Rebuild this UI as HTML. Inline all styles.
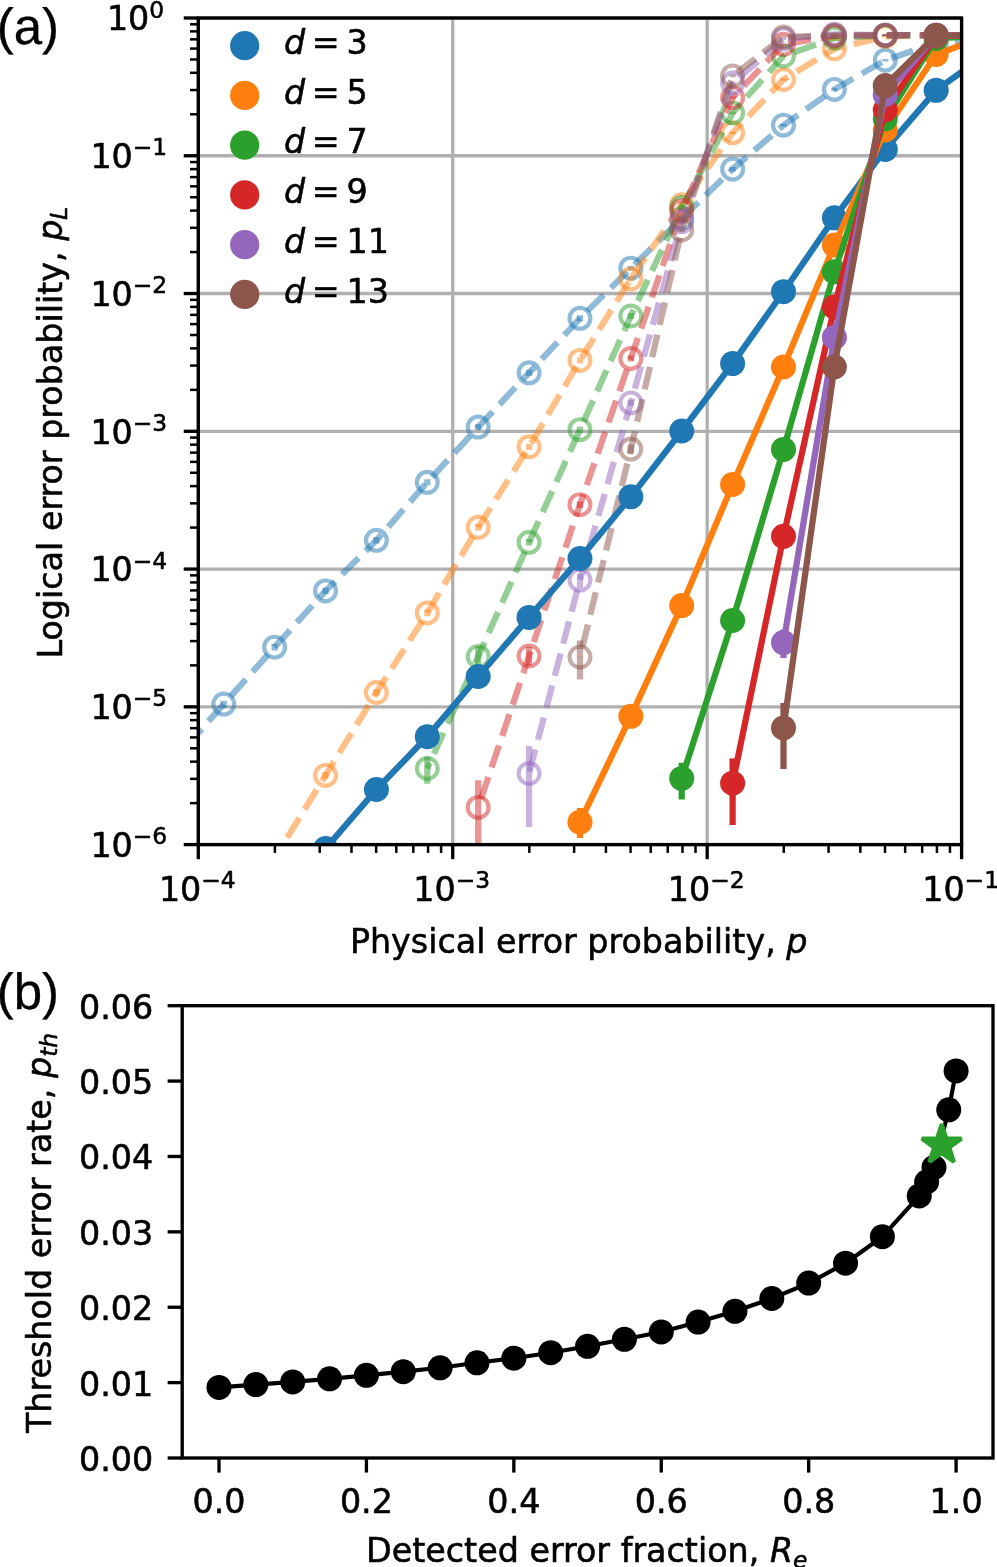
<!DOCTYPE html><html><head><meta charset="utf-8"><title>Figure</title><style>
html,body{margin:0;padding:0;background:#fff;overflow:hidden}svg{display:block;will-change:transform}
text{font-family:"DejaVu Sans","Liberation Sans",sans-serif;font-size:33.33px;fill:#000;stroke:#000;stroke-width:0.55px;stroke-linejoin:round}
.it{font-style:oblique}.sm{font-size:23.33px}.pl{font-family:"Liberation Sans",sans-serif;font-size:51px;text-rendering:geometricPrecision;stroke-width:0.3px}
</style></head><body>
<svg width="997" height="1567" viewBox="0 0 997 1567">
<rect width="997" height="1567" fill="#fff"/>
<defs><clipPath id="ca"><rect x="198.3" y="18" width="763.3" height="826.6"/></clipPath></defs>
<g stroke="#b0b0b0" stroke-width="3.33" fill="none">
<line x1="198.3" y1="18" x2="198.3" y2="844.6"/>
<line x1="452.73" y1="18" x2="452.73" y2="844.6"/>
<line x1="707.17" y1="18" x2="707.17" y2="844.6"/>
<line x1="961.6" y1="18" x2="961.6" y2="844.6"/>
<line x1="198.3" y1="18" x2="961.6" y2="18"/>
<line x1="198.3" y1="155.77" x2="961.6" y2="155.77"/>
<line x1="198.3" y1="293.53" x2="961.6" y2="293.53"/>
<line x1="198.3" y1="431.3" x2="961.6" y2="431.3"/>
<line x1="198.3" y1="569.07" x2="961.6" y2="569.07"/>
<line x1="198.3" y1="706.83" x2="961.6" y2="706.83"/>
<line x1="198.3" y1="844.6" x2="961.6" y2="844.6"/>
</g>
<g clip-path="url(#ca)">
<g stroke="#1f77b4" stroke-opacity="0.5" fill="none">
<polyline points="172.86,761.5 223.74,704.1 274.63,647.2 325.52,590.9 376.4,540.3 427.29,482.3 478.18,427.1 529.06,372.8" stroke-width="6.25" stroke-dasharray="23.12 10" stroke-dashoffset="12.58" stroke-linejoin="round"/>
<polyline points="529.06,372.8 579.95,318.3 630.84,268.2 681.72,218.5 732.61,169.2 783.5,125.2 834.38,89.4 885.27,60.2 936.16,43 987.04,37.5" stroke-width="6.25" stroke-dasharray="23.12 10" stroke-dashoffset="14.55" stroke-linejoin="round"/>
<circle cx="172.86" cy="761.5" r="10.42" stroke-width="4.17"/>
<circle cx="223.74" cy="704.1" r="10.42" stroke-width="4.17"/>
<circle cx="274.63" cy="647.2" r="10.42" stroke-width="4.17"/>
<circle cx="325.52" cy="590.9" r="10.42" stroke-width="4.17"/>
<circle cx="376.4" cy="540.3" r="10.42" stroke-width="4.17"/>
<circle cx="427.29" cy="482.3" r="10.42" stroke-width="4.17"/>
<circle cx="478.18" cy="427.1" r="10.42" stroke-width="4.17"/>
<circle cx="529.06" cy="372.8" r="10.42" stroke-width="4.17"/>
<circle cx="579.95" cy="318.3" r="10.42" stroke-width="4.17"/>
<circle cx="630.84" cy="268.2" r="10.42" stroke-width="4.17"/>
<circle cx="681.72" cy="218.5" r="10.42" stroke-width="4.17"/>
<circle cx="732.61" cy="169.2" r="10.42" stroke-width="4.17"/>
<circle cx="783.5" cy="125.2" r="10.42" stroke-width="4.17"/>
<circle cx="834.38" cy="89.4" r="10.42" stroke-width="4.17"/>
<circle cx="885.27" cy="60.2" r="10.42" stroke-width="4.17"/>
<circle cx="936.16" cy="43" r="10.42" stroke-width="4.17"/>
<circle cx="987.04" cy="37.5" r="10.42" stroke-width="4.17"/>
<line x1="172.86" y1="758.2" x2="172.86" y2="764.8" stroke-width="6.25"/>
<line x1="223.74" y1="700.8" x2="223.74" y2="707.4" stroke-width="6.25"/>
<line x1="274.63" y1="643.9" x2="274.63" y2="650.5" stroke-width="6.25"/>
<line x1="325.52" y1="587.6" x2="325.52" y2="594.2" stroke-width="6.25"/>
<line x1="376.4" y1="537" x2="376.4" y2="543.6" stroke-width="6.25"/>
<line x1="427.29" y1="479.25" x2="427.29" y2="485.35" stroke-width="6.25"/>
<line x1="478.18" y1="424.05" x2="478.18" y2="430.15" stroke-width="6.25"/>
<line x1="529.06" y1="369.75" x2="529.06" y2="375.85" stroke-width="6.25"/>
<line x1="579.95" y1="315.25" x2="579.95" y2="321.35" stroke-width="6.25"/>
<line x1="630.84" y1="265.9" x2="630.84" y2="270.5" stroke-width="6.25"/>
<line x1="681.72" y1="216.2" x2="681.72" y2="220.8" stroke-width="6.25"/>
<line x1="732.61" y1="166.9" x2="732.61" y2="171.5" stroke-width="6.25"/>
<line x1="783.5" y1="123.9" x2="783.5" y2="126.5" stroke-width="6.25"/>
<line x1="834.38" y1="88.1" x2="834.38" y2="90.7" stroke-width="6.25"/>
<line x1="885.27" y1="58.9" x2="885.27" y2="61.5" stroke-width="6.25"/>
<line x1="936.16" y1="42.1" x2="936.16" y2="43.9" stroke-width="6.25"/>
<line x1="987.04" y1="36.6" x2="987.04" y2="38.4" stroke-width="6.25"/>
</g>
<g stroke="#ff7f0e" stroke-opacity="0.5" fill="none">
<polyline points="274.63,858 325.52,775.4 376.4,692.5 427.29,612.9 478.18,527.3 529.06,446.8 579.95,360.4 630.84,278.9" stroke-width="6.25" stroke-dasharray="23.12 10" stroke-dashoffset="9.16" stroke-linejoin="round"/>
<polyline points="630.84,278.9 681.72,204.8 732.61,132.8 783.5,79.5 834.38,48.8" stroke-width="6.25" stroke-dasharray="23.12 10" stroke-dashoffset="30.95" stroke-linejoin="round"/>
<polyline points="834.38,48.8 885.27,36.5 936.16,35.2 987.04,35.2" stroke-width="6.25" stroke-dasharray="23.12 10" stroke-dashoffset="13.33" stroke-linejoin="round"/>
<circle cx="274.63" cy="858" r="10.42" stroke-width="4.17"/>
<circle cx="325.52" cy="775.4" r="10.42" stroke-width="4.17"/>
<circle cx="376.4" cy="692.5" r="10.42" stroke-width="4.17"/>
<circle cx="427.29" cy="612.9" r="10.42" stroke-width="4.17"/>
<circle cx="478.18" cy="527.3" r="10.42" stroke-width="4.17"/>
<circle cx="529.06" cy="446.8" r="10.42" stroke-width="4.17"/>
<circle cx="579.95" cy="360.4" r="10.42" stroke-width="4.17"/>
<circle cx="630.84" cy="278.9" r="10.42" stroke-width="4.17"/>
<circle cx="681.72" cy="204.8" r="10.42" stroke-width="4.17"/>
<circle cx="732.61" cy="132.8" r="10.42" stroke-width="4.17"/>
<circle cx="783.5" cy="79.5" r="10.42" stroke-width="4.17"/>
<circle cx="834.38" cy="48.8" r="10.42" stroke-width="4.17"/>
<circle cx="885.27" cy="36.5" r="10.42" stroke-width="4.17"/>
<circle cx="936.16" cy="35.2" r="10.42" stroke-width="4.17"/>
<circle cx="987.04" cy="35.2" r="10.42" stroke-width="4.17"/>
<line x1="274.63" y1="854.7" x2="274.63" y2="861.3" stroke-width="6.25"/>
<line x1="325.52" y1="772.1" x2="325.52" y2="778.7" stroke-width="6.25"/>
<line x1="376.4" y1="689.2" x2="376.4" y2="695.8" stroke-width="6.25"/>
<line x1="427.29" y1="609.6" x2="427.29" y2="616.2" stroke-width="6.25"/>
<line x1="478.18" y1="524" x2="478.18" y2="530.6" stroke-width="6.25"/>
<line x1="529.06" y1="443.75" x2="529.06" y2="449.85" stroke-width="6.25"/>
<line x1="579.95" y1="357.35" x2="579.95" y2="363.45" stroke-width="6.25"/>
<line x1="630.84" y1="276.6" x2="630.84" y2="281.2" stroke-width="6.25"/>
<line x1="681.72" y1="202.5" x2="681.72" y2="207.1" stroke-width="6.25"/>
<line x1="732.61" y1="131.5" x2="732.61" y2="134.1" stroke-width="6.25"/>
<line x1="783.5" y1="78.2" x2="783.5" y2="80.8" stroke-width="6.25"/>
<line x1="834.38" y1="47.9" x2="834.38" y2="49.7" stroke-width="6.25"/>
<line x1="885.27" y1="35.6" x2="885.27" y2="37.4" stroke-width="6.25"/>
<line x1="936.16" y1="34.3" x2="936.16" y2="36.1" stroke-width="6.25"/>
<line x1="987.04" y1="34.3" x2="987.04" y2="36.1" stroke-width="6.25"/>
</g>
<g stroke="#2ca02c" stroke-opacity="0.5" fill="none">
<polyline points="427.29,768.5 478.18,656.5 529.06,542.3 579.95,429.7 630.84,316 681.72,207.6 732.61,112.9 783.5,56 834.38,38" stroke-width="6.25" stroke-dasharray="23.12 10" stroke-dashoffset="16.96" stroke-linejoin="round"/>
<polyline points="834.38,38 885.27,35.5 936.16,35.2 987.04,35.2" stroke-width="6.25" stroke-dasharray="23.12 10" stroke-dashoffset="13.33" stroke-linejoin="round"/>
<circle cx="427.29" cy="768.5" r="10.42" stroke-width="4.17"/>
<circle cx="478.18" cy="656.5" r="10.42" stroke-width="4.17"/>
<circle cx="529.06" cy="542.3" r="10.42" stroke-width="4.17"/>
<circle cx="579.95" cy="429.7" r="10.42" stroke-width="4.17"/>
<circle cx="630.84" cy="316" r="10.42" stroke-width="4.17"/>
<circle cx="681.72" cy="207.6" r="10.42" stroke-width="4.17"/>
<circle cx="732.61" cy="112.9" r="10.42" stroke-width="4.17"/>
<circle cx="783.5" cy="56" r="10.42" stroke-width="4.17"/>
<circle cx="834.38" cy="38" r="10.42" stroke-width="4.17"/>
<circle cx="885.27" cy="35.5" r="10.42" stroke-width="4.17"/>
<circle cx="936.16" cy="35.2" r="10.42" stroke-width="4.17"/>
<circle cx="987.04" cy="35.2" r="10.42" stroke-width="4.17"/>
<line x1="427.29" y1="756.7" x2="427.29" y2="783.8" stroke-width="6.25"/>
<line x1="478.18" y1="646" x2="478.18" y2="667" stroke-width="6.25"/>
<line x1="529.06" y1="539" x2="529.06" y2="545.6" stroke-width="6.25"/>
<line x1="579.95" y1="426.65" x2="579.95" y2="432.75" stroke-width="6.25"/>
<line x1="630.84" y1="312.95" x2="630.84" y2="319.05" stroke-width="6.25"/>
<line x1="681.72" y1="205.3" x2="681.72" y2="209.9" stroke-width="6.25"/>
<line x1="732.61" y1="111.6" x2="732.61" y2="114.2" stroke-width="6.25"/>
<line x1="783.5" y1="55.1" x2="783.5" y2="56.9" stroke-width="6.25"/>
<line x1="834.38" y1="37.1" x2="834.38" y2="38.9" stroke-width="6.25"/>
<line x1="885.27" y1="34.6" x2="885.27" y2="36.4" stroke-width="6.25"/>
<line x1="936.16" y1="34.3" x2="936.16" y2="36.1" stroke-width="6.25"/>
<line x1="987.04" y1="34.3" x2="987.04" y2="36.1" stroke-width="6.25"/>
</g>
<g stroke="#d62728" stroke-opacity="0.5" fill="none">
<polyline points="478.18,807.4 529.06,656 579.95,504.7 630.84,358.4 681.72,210.8 732.61,97.6 783.5,44.3" stroke-width="6.25" stroke-dasharray="23.12 10" stroke-dashoffset="24.13" stroke-linejoin="round"/>
<polyline points="783.5,44.3 834.38,35.8 885.27,35.2 936.16,35.2 987.04,35.2" stroke-width="6.25" stroke-dasharray="23.12 10" stroke-dashoffset="28.63" stroke-linejoin="round"/>
<circle cx="478.18" cy="807.4" r="10.42" stroke-width="4.17"/>
<circle cx="529.06" cy="656" r="10.42" stroke-width="4.17"/>
<circle cx="579.95" cy="504.7" r="10.42" stroke-width="4.17"/>
<circle cx="630.84" cy="358.4" r="10.42" stroke-width="4.17"/>
<circle cx="681.72" cy="210.8" r="10.42" stroke-width="4.17"/>
<circle cx="732.61" cy="97.6" r="10.42" stroke-width="4.17"/>
<circle cx="783.5" cy="44.3" r="10.42" stroke-width="4.17"/>
<circle cx="834.38" cy="35.8" r="10.42" stroke-width="4.17"/>
<circle cx="885.27" cy="35.2" r="10.42" stroke-width="4.17"/>
<circle cx="936.16" cy="35.2" r="10.42" stroke-width="4.17"/>
<circle cx="987.04" cy="35.2" r="10.42" stroke-width="4.17"/>
<line x1="478.18" y1="780.2" x2="478.18" y2="900" stroke-width="6.25"/>
<line x1="529.06" y1="646.9" x2="529.06" y2="665.5" stroke-width="6.25"/>
<line x1="579.95" y1="501.4" x2="579.95" y2="508" stroke-width="6.25"/>
<line x1="630.84" y1="355.35" x2="630.84" y2="361.45" stroke-width="6.25"/>
<line x1="681.72" y1="208.5" x2="681.72" y2="213.1" stroke-width="6.25"/>
<line x1="732.61" y1="96.3" x2="732.61" y2="98.9" stroke-width="6.25"/>
<line x1="783.5" y1="43.4" x2="783.5" y2="45.2" stroke-width="6.25"/>
<line x1="834.38" y1="34.9" x2="834.38" y2="36.7" stroke-width="6.25"/>
<line x1="885.27" y1="34.3" x2="885.27" y2="36.1" stroke-width="6.25"/>
<line x1="936.16" y1="34.3" x2="936.16" y2="36.1" stroke-width="6.25"/>
<line x1="987.04" y1="34.3" x2="987.04" y2="36.1" stroke-width="6.25"/>
</g>
<g stroke="#9467bd" stroke-opacity="0.5" fill="none">
<polyline points="529.06,773.5 579.95,580.1 630.84,402.9 681.72,221.6 732.61,83.1 783.5,38.9" stroke-width="6.25" stroke-dasharray="23.12 10" stroke-dashoffset="31.39" stroke-linejoin="round"/>
<polyline points="783.5,38.9 834.38,34.3 885.27,35.2 936.16,35.2 987.04,35.2" stroke-width="6.25" stroke-dasharray="23.12 10" stroke-dashoffset="28.63" stroke-linejoin="round"/>
<circle cx="529.06" cy="773.5" r="10.42" stroke-width="4.17"/>
<circle cx="579.95" cy="580.1" r="10.42" stroke-width="4.17"/>
<circle cx="630.84" cy="402.9" r="10.42" stroke-width="4.17"/>
<circle cx="681.72" cy="221.6" r="10.42" stroke-width="4.17"/>
<circle cx="732.61" cy="83.1" r="10.42" stroke-width="4.17"/>
<circle cx="783.5" cy="38.9" r="10.42" stroke-width="4.17"/>
<circle cx="834.38" cy="34.3" r="10.42" stroke-width="4.17"/>
<circle cx="885.27" cy="35.2" r="10.42" stroke-width="4.17"/>
<circle cx="936.16" cy="35.2" r="10.42" stroke-width="4.17"/>
<circle cx="987.04" cy="35.2" r="10.42" stroke-width="4.17"/>
<line x1="529.06" y1="745.9" x2="529.06" y2="827.1" stroke-width="6.25"/>
<line x1="579.95" y1="573.7" x2="579.95" y2="588.2" stroke-width="6.25"/>
<line x1="630.84" y1="399.85" x2="630.84" y2="405.95" stroke-width="6.25"/>
<line x1="681.72" y1="219.3" x2="681.72" y2="223.9" stroke-width="6.25"/>
<line x1="732.61" y1="81.8" x2="732.61" y2="84.4" stroke-width="6.25"/>
<line x1="783.5" y1="38" x2="783.5" y2="39.8" stroke-width="6.25"/>
<line x1="834.38" y1="33.4" x2="834.38" y2="35.2" stroke-width="6.25"/>
<line x1="885.27" y1="34.3" x2="885.27" y2="36.1" stroke-width="6.25"/>
<line x1="936.16" y1="34.3" x2="936.16" y2="36.1" stroke-width="6.25"/>
<line x1="987.04" y1="34.3" x2="987.04" y2="36.1" stroke-width="6.25"/>
</g>
<g stroke="#8c564b" stroke-opacity="0.5" fill="none">
<polyline points="579.95,657 630.84,449.1 681.72,230 732.61,75.9 783.5,37.1" stroke-width="6.25" stroke-dasharray="23.12 10" stroke-dashoffset="22.74" stroke-linejoin="round"/>
<polyline points="783.5,37.1 834.38,35.3 885.27,35.2 936.16,35.2 987.04,35.2" stroke-width="6.25" stroke-dasharray="23.12 10" stroke-dashoffset="28.63" stroke-linejoin="round"/>
<circle cx="579.95" cy="657" r="10.42" stroke-width="4.17"/>
<circle cx="630.84" cy="449.1" r="10.42" stroke-width="4.17"/>
<circle cx="681.72" cy="230" r="10.42" stroke-width="4.17"/>
<circle cx="732.61" cy="75.9" r="10.42" stroke-width="4.17"/>
<circle cx="783.5" cy="37.1" r="10.42" stroke-width="4.17"/>
<circle cx="834.38" cy="35.3" r="10.42" stroke-width="4.17"/>
<circle cx="885.27" cy="35.2" r="10.42" stroke-width="4.17"/>
<circle cx="936.16" cy="35.2" r="10.42" stroke-width="4.17"/>
<circle cx="987.04" cy="35.2" r="10.42" stroke-width="4.17"/>
<line x1="579.95" y1="640.5" x2="579.95" y2="679.5" stroke-width="6.25"/>
<line x1="630.84" y1="444.6" x2="630.84" y2="453.6" stroke-width="6.25"/>
<line x1="681.72" y1="227.7" x2="681.72" y2="232.3" stroke-width="6.25"/>
<line x1="732.61" y1="74.6" x2="732.61" y2="77.2" stroke-width="6.25"/>
<line x1="783.5" y1="36.2" x2="783.5" y2="38" stroke-width="6.25"/>
<line x1="834.38" y1="34.4" x2="834.38" y2="36.2" stroke-width="6.25"/>
<line x1="885.27" y1="34.3" x2="885.27" y2="36.1" stroke-width="6.25"/>
<line x1="936.16" y1="34.3" x2="936.16" y2="36.1" stroke-width="6.25"/>
<line x1="987.04" y1="34.3" x2="987.04" y2="36.1" stroke-width="6.25"/>
</g>
<g stroke="#1f77b4" fill="#1f77b4">
<polyline points="325.52,848.6 376.4,789.5 427.29,736.7 478.18,676.5 529.06,617.4 579.95,558.5 630.84,496.8 681.72,431 732.61,363.6 783.5,291.7 834.38,217.8 885.27,149.4 936.16,90.3 987.04,53.4" stroke-width="6.25" fill="none" stroke-linejoin="round"/>
<circle cx="325.52" cy="848.6" r="12.5" stroke="none"/>
<circle cx="376.4" cy="789.5" r="12.5" stroke="none"/>
<circle cx="427.29" cy="736.7" r="12.5" stroke="none"/>
<circle cx="478.18" cy="676.5" r="12.5" stroke="none"/>
<circle cx="529.06" cy="617.4" r="12.5" stroke="none"/>
<circle cx="579.95" cy="558.5" r="12.5" stroke="none"/>
<circle cx="630.84" cy="496.8" r="12.5" stroke="none"/>
<circle cx="681.72" cy="431" r="12.5" stroke="none"/>
<circle cx="732.61" cy="363.6" r="12.5" stroke="none"/>
<circle cx="783.5" cy="291.7" r="12.5" stroke="none"/>
<circle cx="834.38" cy="217.8" r="12.5" stroke="none"/>
<circle cx="885.27" cy="149.4" r="12.5" stroke="none"/>
<circle cx="936.16" cy="90.3" r="12.5" stroke="none"/>
<circle cx="987.04" cy="53.4" r="12.5" stroke="none"/>
</g>
<g stroke="#ff7f0e" fill="#ff7f0e">
<polyline points="579.95,822.2 630.84,716.3 681.72,605.6 732.61,484.5 783.5,367 834.38,245.1 885.27,130 936.16,54.5 987.04,35.5" stroke-width="6.25" fill="none" stroke-linejoin="round"/>
<circle cx="579.95" cy="822.2" r="12.5" stroke="none"/>
<circle cx="630.84" cy="716.3" r="12.5" stroke="none"/>
<circle cx="681.72" cy="605.6" r="12.5" stroke="none"/>
<circle cx="732.61" cy="484.5" r="12.5" stroke="none"/>
<circle cx="783.5" cy="367" r="12.5" stroke="none"/>
<circle cx="834.38" cy="245.1" r="12.5" stroke="none"/>
<circle cx="885.27" cy="130" r="12.5" stroke="none"/>
<circle cx="936.16" cy="54.5" r="12.5" stroke="none"/>
<circle cx="987.04" cy="35.5" r="12.5" stroke="none"/>
<line x1="579.95" y1="808" x2="579.95" y2="837.9" stroke-width="6.25"/>
</g>
<g stroke="#2ca02c" fill="#2ca02c">
<polyline points="681.72,778.4 732.61,620.5 783.5,449.4 834.38,271.8 885.27,118.8 936.16,38.5 987.04,35.2" stroke-width="6.25" fill="none" stroke-linejoin="round"/>
<circle cx="681.72" cy="778.4" r="12.5" stroke="none"/>
<circle cx="732.61" cy="620.5" r="12.5" stroke="none"/>
<circle cx="783.5" cy="449.4" r="12.5" stroke="none"/>
<circle cx="834.38" cy="271.8" r="12.5" stroke="none"/>
<circle cx="885.27" cy="118.8" r="12.5" stroke="none"/>
<circle cx="936.16" cy="38.5" r="12.5" stroke="none"/>
<circle cx="987.04" cy="35.2" r="12.5" stroke="none"/>
<line x1="681.72" y1="762.8" x2="681.72" y2="799.6" stroke-width="6.25"/>
</g>
<g stroke="#d62728" fill="#d62728">
<polyline points="732.61,783.2 783.5,536.3 834.38,307 885.27,110 936.16,36 987.04,35.2" stroke-width="6.25" fill="none" stroke-linejoin="round"/>
<circle cx="732.61" cy="783.2" r="12.5" stroke="none"/>
<circle cx="783.5" cy="536.3" r="12.5" stroke="none"/>
<circle cx="834.38" cy="307" r="12.5" stroke="none"/>
<circle cx="885.27" cy="110" r="12.5" stroke="none"/>
<circle cx="936.16" cy="36" r="12.5" stroke="none"/>
<circle cx="987.04" cy="35.2" r="12.5" stroke="none"/>
<line x1="732.61" y1="758.4" x2="732.61" y2="824.9" stroke-width="6.25"/>
</g>
<g stroke="#9467bd" fill="#9467bd">
<polyline points="783.5,642.6 834.38,337.4 885.27,94.7 936.16,35.5 987.04,35.2" stroke-width="6.25" fill="none" stroke-linejoin="round"/>
<circle cx="783.5" cy="642.6" r="12.5" stroke="none"/>
<circle cx="834.38" cy="337.4" r="12.5" stroke="none"/>
<circle cx="885.27" cy="94.7" r="12.5" stroke="none"/>
<circle cx="936.16" cy="35.5" r="12.5" stroke="none"/>
<circle cx="987.04" cy="35.2" r="12.5" stroke="none"/>
<line x1="783.5" y1="629.6" x2="783.5" y2="658" stroke-width="6.25"/>
</g>
<g stroke="#8c564b" fill="#8c564b">
<polyline points="783.5,727.9 834.38,367 885.27,85.6 936.16,35.5 987.04,35.2" stroke-width="6.25" fill="none" stroke-linejoin="round"/>
<circle cx="783.5" cy="727.9" r="12.5" stroke="none"/>
<circle cx="834.38" cy="367" r="12.5" stroke="none"/>
<circle cx="885.27" cy="85.6" r="12.5" stroke="none"/>
<circle cx="936.16" cy="35.5" r="12.5" stroke="none"/>
<circle cx="987.04" cy="35.2" r="12.5" stroke="none"/>
<line x1="783.5" y1="703.1" x2="783.5" y2="769" stroke-width="6.25"/>
</g>
</g>
<g stroke="#000" fill="none">
<g stroke-width="2.5">
<line x1="274.89" y1="844.6" x2="274.89" y2="852.93"/>
<line x1="319.7" y1="844.6" x2="319.7" y2="852.93"/>
<line x1="351.48" y1="844.6" x2="351.48" y2="852.93"/>
<line x1="376.14" y1="844.6" x2="376.14" y2="852.93"/>
<line x1="396.29" y1="844.6" x2="396.29" y2="852.93"/>
<line x1="413.32" y1="844.6" x2="413.32" y2="852.93"/>
<line x1="428.08" y1="844.6" x2="428.08" y2="852.93"/>
<line x1="441.09" y1="844.6" x2="441.09" y2="852.93"/>
<line x1="529.33" y1="844.6" x2="529.33" y2="852.93"/>
<line x1="574.13" y1="844.6" x2="574.13" y2="852.93"/>
<line x1="605.92" y1="844.6" x2="605.92" y2="852.93"/>
<line x1="630.57" y1="844.6" x2="630.57" y2="852.93"/>
<line x1="650.72" y1="844.6" x2="650.72" y2="852.93"/>
<line x1="667.75" y1="844.6" x2="667.75" y2="852.93"/>
<line x1="682.51" y1="844.6" x2="682.51" y2="852.93"/>
<line x1="695.52" y1="844.6" x2="695.52" y2="852.93"/>
<line x1="783.76" y1="844.6" x2="783.76" y2="852.93"/>
<line x1="828.56" y1="844.6" x2="828.56" y2="852.93"/>
<line x1="860.35" y1="844.6" x2="860.35" y2="852.93"/>
<line x1="885.01" y1="844.6" x2="885.01" y2="852.93"/>
<line x1="905.15" y1="844.6" x2="905.15" y2="852.93"/>
<line x1="922.19" y1="844.6" x2="922.19" y2="852.93"/>
<line x1="936.94" y1="844.6" x2="936.94" y2="852.93"/>
<line x1="949.96" y1="844.6" x2="949.96" y2="852.93"/>
<line x1="198.3" y1="803.13" x2="189.97" y2="803.13"/>
<line x1="198.3" y1="778.87" x2="189.97" y2="778.87"/>
<line x1="198.3" y1="761.66" x2="189.97" y2="761.66"/>
<line x1="198.3" y1="748.31" x2="189.97" y2="748.31"/>
<line x1="198.3" y1="737.4" x2="189.97" y2="737.4"/>
<line x1="198.3" y1="728.17" x2="189.97" y2="728.17"/>
<line x1="198.3" y1="720.18" x2="189.97" y2="720.18"/>
<line x1="198.3" y1="713.14" x2="189.97" y2="713.14"/>
<line x1="198.3" y1="665.36" x2="189.97" y2="665.36"/>
<line x1="198.3" y1="641.1" x2="189.97" y2="641.1"/>
<line x1="198.3" y1="623.89" x2="189.97" y2="623.89"/>
<line x1="198.3" y1="610.54" x2="189.97" y2="610.54"/>
<line x1="198.3" y1="599.63" x2="189.97" y2="599.63"/>
<line x1="198.3" y1="590.41" x2="189.97" y2="590.41"/>
<line x1="198.3" y1="582.42" x2="189.97" y2="582.42"/>
<line x1="198.3" y1="575.37" x2="189.97" y2="575.37"/>
<line x1="198.3" y1="527.59" x2="189.97" y2="527.59"/>
<line x1="198.3" y1="503.34" x2="189.97" y2="503.34"/>
<line x1="198.3" y1="486.12" x2="189.97" y2="486.12"/>
<line x1="198.3" y1="472.77" x2="189.97" y2="472.77"/>
<line x1="198.3" y1="461.86" x2="189.97" y2="461.86"/>
<line x1="198.3" y1="452.64" x2="189.97" y2="452.64"/>
<line x1="198.3" y1="444.65" x2="189.97" y2="444.65"/>
<line x1="198.3" y1="437.6" x2="189.97" y2="437.6"/>
<line x1="198.3" y1="389.83" x2="189.97" y2="389.83"/>
<line x1="198.3" y1="365.57" x2="189.97" y2="365.57"/>
<line x1="198.3" y1="348.36" x2="189.97" y2="348.36"/>
<line x1="198.3" y1="335.01" x2="189.97" y2="335.01"/>
<line x1="198.3" y1="324.1" x2="189.97" y2="324.1"/>
<line x1="198.3" y1="314.87" x2="189.97" y2="314.87"/>
<line x1="198.3" y1="306.88" x2="189.97" y2="306.88"/>
<line x1="198.3" y1="299.84" x2="189.97" y2="299.84"/>
<line x1="198.3" y1="252.06" x2="189.97" y2="252.06"/>
<line x1="198.3" y1="227.8" x2="189.97" y2="227.8"/>
<line x1="198.3" y1="210.59" x2="189.97" y2="210.59"/>
<line x1="198.3" y1="197.24" x2="189.97" y2="197.24"/>
<line x1="198.3" y1="186.33" x2="189.97" y2="186.33"/>
<line x1="198.3" y1="177.11" x2="189.97" y2="177.11"/>
<line x1="198.3" y1="169.12" x2="189.97" y2="169.12"/>
<line x1="198.3" y1="162.07" x2="189.97" y2="162.07"/>
<line x1="198.3" y1="114.29" x2="189.97" y2="114.29"/>
<line x1="198.3" y1="90.04" x2="189.97" y2="90.04"/>
<line x1="198.3" y1="72.82" x2="189.97" y2="72.82"/>
<line x1="198.3" y1="59.47" x2="189.97" y2="59.47"/>
<line x1="198.3" y1="48.56" x2="189.97" y2="48.56"/>
<line x1="198.3" y1="39.34" x2="189.97" y2="39.34"/>
<line x1="198.3" y1="31.35" x2="189.97" y2="31.35"/>
<line x1="198.3" y1="24.3" x2="189.97" y2="24.3"/>
</g><g stroke-width="3.33">
<line x1="198.3" y1="844.6" x2="198.3" y2="859.18"/>
<line x1="452.73" y1="844.6" x2="452.73" y2="859.18"/>
<line x1="707.17" y1="844.6" x2="707.17" y2="859.18"/>
<line x1="961.6" y1="844.6" x2="961.6" y2="859.18"/>
<line x1="198.3" y1="18" x2="183.72" y2="18"/>
<line x1="198.3" y1="155.77" x2="183.72" y2="155.77"/>
<line x1="198.3" y1="293.53" x2="183.72" y2="293.53"/>
<line x1="198.3" y1="431.3" x2="183.72" y2="431.3"/>
<line x1="198.3" y1="569.07" x2="183.72" y2="569.07"/>
<line x1="198.3" y1="706.83" x2="183.72" y2="706.83"/>
<line x1="198.3" y1="844.6" x2="183.72" y2="844.6"/>
<rect x="198.3" y="18" width="763.3" height="826.6" stroke-linejoin="miter"/>
</g></g>
<text x="106.9" y="30.2">10<tspan class="sm" dy="-12.7">0</tspan></text>
<text x="90.4" y="167.97">10<tspan class="sm" dy="-12.7">−1</tspan></text>
<text x="90.4" y="305.73">10<tspan class="sm" dy="-12.7">−2</tspan></text>
<text x="90.4" y="443.5">10<tspan class="sm" dy="-12.7">−3</tspan></text>
<text x="90.4" y="581.27">10<tspan class="sm" dy="-12.7">−4</tspan></text>
<text x="90.4" y="719.03">10<tspan class="sm" dy="-12.7">−5</tspan></text>
<text x="90.4" y="856.8">10<tspan class="sm" dy="-12.7">−6</tspan></text>
<text x="158.9" y="901">10<tspan class="sm" dy="-12.7">−4</tspan></text>
<text x="413.33" y="901">10<tspan class="sm" dy="-12.7">−3</tspan></text>
<text x="667.77" y="901">10<tspan class="sm" dy="-12.7">−2</tspan></text>
<text x="922.2" y="901">10<tspan class="sm" dy="-12.7">−1</tspan></text>
<text x="349.9" y="953">Physical error probability, <tspan class="it">p</tspan></text>
<text transform="translate(61.5,658.5) rotate(-90)">Logical error probability, <tspan class="it">p</tspan><tspan class="it sm" dy="5.6">L</tspan></text>
<circle cx="244.7" cy="45.7" r="14.6" fill="#1f77b4"/>
<text y="54"><tspan x="284" class="it">d</tspan><tspan x="311.84">=</tspan><tspan x="346.44">3</tspan></text>
<circle cx="244.7" cy="95.44" r="14.6" fill="#ff7f0e"/>
<text y="103.74"><tspan x="284" class="it">d</tspan><tspan x="311.84">=</tspan><tspan x="346.44">5</tspan></text>
<circle cx="244.7" cy="145.18" r="14.6" fill="#2ca02c"/>
<text y="153.48"><tspan x="284" class="it">d</tspan><tspan x="311.84">=</tspan><tspan x="346.44">7</tspan></text>
<circle cx="244.7" cy="194.92" r="14.6" fill="#d62728"/>
<text y="203.22"><tspan x="284" class="it">d</tspan><tspan x="311.84">=</tspan><tspan x="346.44">9</tspan></text>
<circle cx="244.7" cy="244.66" r="14.6" fill="#9467bd"/>
<text y="252.96"><tspan x="284" class="it">d</tspan><tspan x="311.84">=</tspan><tspan x="346.44">11</tspan></text>
<circle cx="244.7" cy="294.4" r="14.6" fill="#8c564b"/>
<text y="302.7"><tspan x="284" class="it">d</tspan><tspan x="311.84">=</tspan><tspan x="346.44">13</tspan></text>
<text class="pl" x="-3.3" y="43.9">(a)</text>
<g fill="#000" stroke="#000">
<polyline fill="none" stroke-width="4.17" stroke-linejoin="round" points="219,1387.4 255.86,1384.6 292.71,1381.9 329.56,1378.8 366.42,1375.3 403.27,1371.7 440.13,1367.8 476.99,1362.8 513.84,1358.2 550.69,1352.7 587.55,1346.3 624.4,1339.3 661.26,1332 698.12,1322.1 734.97,1311.3 771.83,1298.5 808.68,1283.1 845.53,1263.2 882.39,1236.7 919.25,1195.9 926.62,1182 933.99,1167.4 948.73,1109.8 956.1,1070.9"/>
<circle cx="219" cy="1387.4" r="12.5" stroke="none"/>
<circle cx="255.86" cy="1384.6" r="12.5" stroke="none"/>
<circle cx="292.71" cy="1381.9" r="12.5" stroke="none"/>
<circle cx="329.56" cy="1378.8" r="12.5" stroke="none"/>
<circle cx="366.42" cy="1375.3" r="12.5" stroke="none"/>
<circle cx="403.27" cy="1371.7" r="12.5" stroke="none"/>
<circle cx="440.13" cy="1367.8" r="12.5" stroke="none"/>
<circle cx="476.99" cy="1362.8" r="12.5" stroke="none"/>
<circle cx="513.84" cy="1358.2" r="12.5" stroke="none"/>
<circle cx="550.69" cy="1352.7" r="12.5" stroke="none"/>
<circle cx="587.55" cy="1346.3" r="12.5" stroke="none"/>
<circle cx="624.4" cy="1339.3" r="12.5" stroke="none"/>
<circle cx="661.26" cy="1332" r="12.5" stroke="none"/>
<circle cx="698.12" cy="1322.1" r="12.5" stroke="none"/>
<circle cx="734.97" cy="1311.3" r="12.5" stroke="none"/>
<circle cx="771.83" cy="1298.5" r="12.5" stroke="none"/>
<circle cx="808.68" cy="1283.1" r="12.5" stroke="none"/>
<circle cx="845.53" cy="1263.2" r="12.5" stroke="none"/>
<circle cx="882.39" cy="1236.7" r="12.5" stroke="none"/>
<circle cx="919.25" cy="1195.9" r="12.5" stroke="none"/>
<circle cx="926.62" cy="1182" r="12.5" stroke="none"/>
<circle cx="933.99" cy="1167.4" r="12.5" stroke="none"/>
<circle cx="948.73" cy="1109.8" r="12.5" stroke="none"/>
<circle cx="956.1" cy="1070.9" r="12.5" stroke="none"/>
</g>
<polygon points="941.7,1124.17 946.38,1138.56 961.51,1138.56 949.27,1147.46 953.94,1161.85 941.7,1152.96 929.46,1161.85 934.13,1147.46 921.89,1138.56 937.02,1138.56" fill="#2ca02c" stroke="#2ca02c" stroke-width="4.17" stroke-linejoin="bevel"/>
<g stroke="#000" fill="none" stroke-width="3.33">
<line x1="219" y1="1458" x2="219" y2="1472.58"/>
<line x1="366.42" y1="1458" x2="366.42" y2="1472.58"/>
<line x1="513.84" y1="1458" x2="513.84" y2="1472.58"/>
<line x1="661.26" y1="1458" x2="661.26" y2="1472.58"/>
<line x1="808.68" y1="1458" x2="808.68" y2="1472.58"/>
<line x1="956.1" y1="1458" x2="956.1" y2="1472.58"/>
<line x1="182.2" y1="1458" x2="167.62" y2="1458"/>
<line x1="182.2" y1="1382.62" x2="167.62" y2="1382.62"/>
<line x1="182.2" y1="1307.23" x2="167.62" y2="1307.23"/>
<line x1="182.2" y1="1231.85" x2="167.62" y2="1231.85"/>
<line x1="182.2" y1="1156.47" x2="167.62" y2="1156.47"/>
<line x1="182.2" y1="1081.08" x2="167.62" y2="1081.08"/>
<line x1="182.2" y1="1005.7" x2="167.62" y2="1005.7"/>
<rect x="182.2" y="1005.7" width="810.8" height="452.3"/>
</g>
<text x="219" y="1512.7" text-anchor="middle">0.0</text>
<text x="366.42" y="1512.7" text-anchor="middle">0.2</text>
<text x="513.84" y="1512.7" text-anchor="middle">0.4</text>
<text x="661.26" y="1512.7" text-anchor="middle">0.6</text>
<text x="808.68" y="1512.7" text-anchor="middle">0.8</text>
<text x="956.1" y="1512.7" text-anchor="middle">1.0</text>
<text x="153.2" y="1471" text-anchor="end">0.00</text>
<text x="153.2" y="1395.62" text-anchor="end">0.01</text>
<text x="153.2" y="1320.23" text-anchor="end">0.02</text>
<text x="153.2" y="1244.85" text-anchor="end">0.03</text>
<text x="153.2" y="1169.47" text-anchor="end">0.04</text>
<text x="153.2" y="1094.08" text-anchor="end">0.05</text>
<text x="153.2" y="1018.7" text-anchor="end">0.06</text>
<text x="366" y="1562.2">Detected error fraction, <tspan class="it">R</tspan><tspan class="it sm" dy="5.6">e</tspan></text>
<text transform="translate(51.1,1433) rotate(-90)">Threshold error rate, <tspan class="it">p</tspan><tspan class="it sm" dy="5.6">th</tspan></text>
<text class="pl" x="-3.3" y="1008.6">(b)</text>
</svg></body></html>
